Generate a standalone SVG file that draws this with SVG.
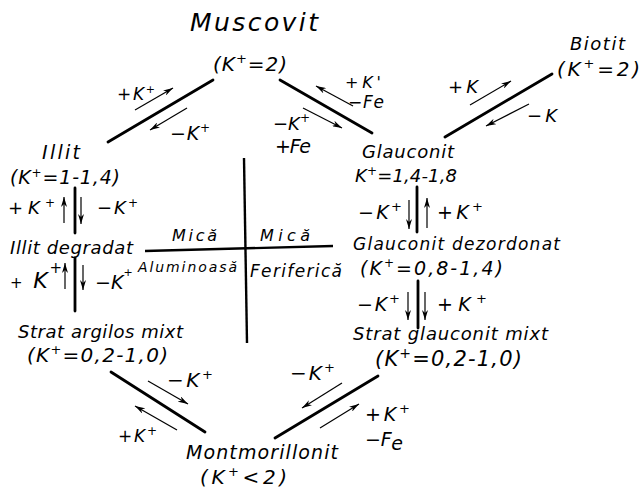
<svg xmlns="http://www.w3.org/2000/svg" width="642" height="489" viewBox="0 0 642 489">
<style>
text{font-family:"DejaVu Sans","Liberation Sans",Arial,sans-serif;font-style:oblique;fill:#000}
.main{stroke:#000;stroke-width:2.8;stroke-linecap:round;fill:none}
.cross{stroke:#000;stroke-width:2.4;fill:none}
.arr{stroke:#000;stroke-width:1.2;fill:none;marker-end:url(#ah)}
</style>
<defs>
<marker id="ah" markerUnits="userSpaceOnUse" markerWidth="10" markerHeight="6" refX="10" refY="3" orient="auto">
<path d="M0,0 L10,3 L0,6 L3,3 z" fill="#000"/>
</marker>
</defs>
<rect width="642" height="489" fill="#fff"/>

<g id="muscovit">
<text x="190" y="31" font-size="25" textLength="128" lengthAdjust="spacing">Muscovit</text>
<text x="213" y="71" font-size="20" textLength="74" lengthAdjust="spacing">(K<tspan dy="-8" font-size="13">+</tspan><tspan dy="8">=2)</tspan></text>
</g>
<g id="biotit">
<text x="570" y="50" font-size="18" textLength="55" lengthAdjust="spacing">Biotit</text>
<text x="557" y="76" font-size="20" textLength="83" lengthAdjust="spacing">(K<tspan dy="-8" font-size="13">+</tspan><tspan dy="8">=2)</tspan></text>
</g>
<g id="illit">
<text x="42" y="159" font-size="19" textLength="38" lengthAdjust="spacing">Illit</text>
<text x="10" y="184" font-size="19" textLength="110" lengthAdjust="spacing">(K<tspan dy="-7" font-size="12">+</tspan><tspan dy="7">=1-1,4)</tspan></text>
</g>
<g id="glauconit">
<text x="362" y="158" font-size="18" textLength="92" lengthAdjust="spacing">Glauconit</text>
<text x="355" y="182" font-size="18" textLength="102" lengthAdjust="spacing">K<tspan dy="-7" font-size="12">+</tspan><tspan dy="7">=1,4-1,8</tspan></text>
</g>
<g id="illit-degradat">
<text x="10" y="254" font-size="18" textLength="123" lengthAdjust="spacing">Illit degradat</text>
</g>
<g id="glauconit-dezordonat">
<text x="353" y="250" font-size="17" textLength="207" lengthAdjust="spacing">Glauconit dezordonat</text>
<text x="360" y="275" font-size="19" textLength="143" lengthAdjust="spacing">(K<tspan dy="-8" font-size="12">+</tspan><tspan dy="8">=0,8-1,4)</tspan></text>
</g>
<g id="strat-argilos-mixt">
<text x="18" y="338" font-size="18" textLength="165" lengthAdjust="spacing">Strat argilos mixt</text>
<text x="27" y="362" font-size="20" textLength="141" lengthAdjust="spacing">(K<tspan dy="-8" font-size="13">+</tspan><tspan dy="8">=0,2-1,0)</tspan></text>
</g>
<g id="strat-glauconit-mixt">
<text x="353" y="340" font-size="18" textLength="195" lengthAdjust="spacing">Strat glauconit mixt</text>
<text x="375" y="366" font-size="21" textLength="147" lengthAdjust="spacing">(K<tspan dy="-8" font-size="14">+</tspan><tspan dy="8">=0,2-1,0)</tspan></text>
</g>
<g id="montmorillonit">
<text x="186" y="459" font-size="19" textLength="152" lengthAdjust="spacing">Montmorillonit</text>
<text x="200" y="484" font-size="20" textLength="87" lengthAdjust="spacing">(K<tspan dy="-8" font-size="13">+</tspan><tspan dy="8">&lt;2)</tspan></text>
</g>
<g id="mica-cross">
<line class="cross" x1="145" y1="251" x2="333" y2="246"/>
<line class="cross" x1="244" y1="158" x2="247" y2="343"/>
<text x="172" y="241" font-size="16" textLength="45" lengthAdjust="spacing">Mică</text>
<text x="260" y="241" font-size="16" textLength="50" lengthAdjust="spacing">Mică</text>
<text x="138" y="272" font-size="14" textLength="99" lengthAdjust="spacing">Aluminoasă</text>
<text x="250" y="277" font-size="17" textLength="92" lengthAdjust="spacing">Feriferică</text>
</g>

<g id="connectors">
<line class="main" x1="108" y1="142" x2="213" y2="80"/>
<line class="main" x1="280" y1="80" x2="372" y2="133"/>
<line class="main" x1="445" y1="137" x2="552" y2="74"/>
<line class="main" x1="111" y1="372" x2="205" y2="432"/>
<line class="main" x1="378" y1="376" x2="275" y2="438"/>
<line class="main" x1="75" y1="188" x2="75" y2="233" stroke-width="2.2"/>
<line class="main" x1="75" y1="258" x2="75" y2="311" stroke-width="2.2"/>
<line class="main" x1="417" y1="187" x2="417" y2="232" stroke-width="2.2"/>
<line class="main" x1="418" y1="281" x2="418" y2="328" stroke-width="2.2"/>

<line class="arr" x1="135" y1="110" x2="173" y2="88"/>
<line class="arr" x1="187" y1="108" x2="150" y2="130"/>
<line class="arr" x1="353" y1="106" x2="316" y2="86"/>
<line class="arr" x1="303" y1="108" x2="342" y2="128"/>
<line class="arr" x1="470" y1="105" x2="511" y2="81"/>
<line class="arr" x1="529" y1="104" x2="486" y2="126"/>
<line class="arr" x1="148" y1="381" x2="188" y2="404"/>
<line class="arr" x1="177" y1="430" x2="135" y2="406"/>
<line class="arr" x1="342" y1="383" x2="302" y2="408"/>
<line class="arr" x1="320" y1="428" x2="359" y2="404"/>
<line class="arr" x1="64" y1="223" x2="64" y2="197"/>
<line class="arr" x1="81" y1="197" x2="81" y2="224"/>
<line class="arr" x1="65" y1="289" x2="65" y2="263"/>
<line class="arr" x1="83" y1="265" x2="83" y2="290"/>
<line class="arr" x1="409" y1="200" x2="409" y2="229"/>
<line class="arr" x1="427" y1="228" x2="427" y2="198"/>
<line class="arr" x1="408" y1="292" x2="408" y2="320"/>
<line class="arr" x1="425" y1="292" x2="425" y2="320"/>

<text x="117" y="100" font-size="17" textLength="38" lengthAdjust="spacing">+K<tspan dy="-7" font-size="11">+</tspan></text>
<text x="170" y="140" font-size="19" textLength="40" lengthAdjust="spacing">−K<tspan dy="-8" font-size="12">+</tspan></text>
<text x="345" y="88" font-size="16" textLength="36" lengthAdjust="spacing">+K'</text>
<text x="348" y="108" font-size="17" textLength="36" lengthAdjust="spacing">−Fe</text>
<text x="273" y="130" font-size="18" textLength="37" lengthAdjust="spacing">−K<tspan dy="-8" font-size="12">+</tspan></text>
<text x="275" y="153" font-size="19" textLength="36" lengthAdjust="spacing">+Fe</text>
<text x="448" y="93" font-size="18" textLength="30" lengthAdjust="spacing">+K</text>
<text x="527" y="122" font-size="18" textLength="30" lengthAdjust="spacing">−K</text>
<text x="8" y="214" font-size="18" textLength="47" lengthAdjust="spacing">+K<tspan dy="-7" font-size="12">+</tspan></text>
<text x="97" y="214" font-size="18" textLength="41" lengthAdjust="spacing">−K<tspan dy="-7" font-size="12">+</tspan></text>
<text x="10" y="288" font-size="22" textLength="52" lengthAdjust="spacing"><tspan font-size="15">+</tspan> K<tspan dy="-15" font-size="15">+</tspan></text>
<text x="95" y="289" font-size="19">−K<tspan dy="-13" font-size="11">+</tspan></text>
<text x="358" y="219" font-size="19" textLength="44" lengthAdjust="spacing">−K<tspan dy="-8" font-size="13">+</tspan></text>
<text x="437" y="219" font-size="19" textLength="46" lengthAdjust="spacing">+K<tspan dy="-8" font-size="13">+</tspan></text>
<text x="357" y="311" font-size="19" textLength="43" lengthAdjust="spacing">−K<tspan dy="-8" font-size="13">+</tspan></text>
<text x="437" y="311" font-size="19" textLength="50" lengthAdjust="spacing">+K<tspan dy="-8" font-size="13">+</tspan></text>
<text x="167" y="387" font-size="20" textLength="46" lengthAdjust="spacing">−K<tspan dy="-8" font-size="13">+</tspan></text>
<text x="118" y="442" font-size="17" textLength="39" lengthAdjust="spacing">+K<tspan dy="-7" font-size="12">+</tspan></text>
<text x="290" y="380" font-size="20" textLength="45" lengthAdjust="spacing">−K<tspan dy="-8" font-size="13">+</tspan></text>
<text x="365" y="421" font-size="19" textLength="45" lengthAdjust="spacing">+K<tspan dy="-8" font-size="13">+</tspan></text>
<text x="365" y="446" font-size="19" textLength="38" lengthAdjust="spacing">−F<tspan dy="4">e</tspan></text>
</g>
</svg>
